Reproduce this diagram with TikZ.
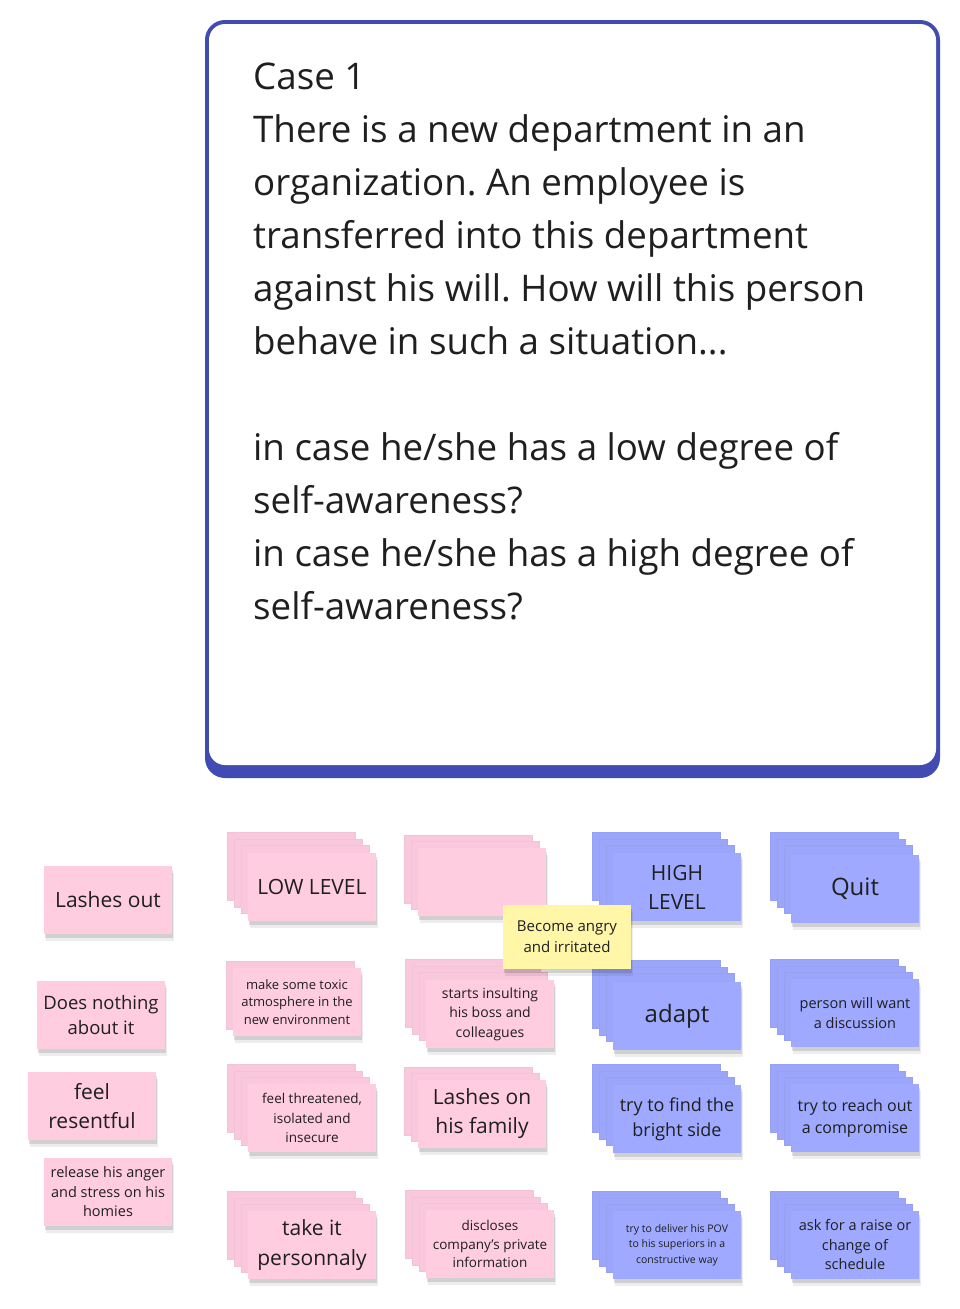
\documentclass[tikz,border=0pt]{standalone}
\usepackage{fontspec}
\setmainfont{Open Sans}
\usetikzlibrary{calc}
\definecolor{frame}{HTML}{414BB2}
\definecolor{ink}{HTML}{1F1F1F}
\definecolor{notepink}{HTML}{FFCCE0}
\definecolor{noteblue}{HTML}{9EA9FF}
\definecolor{noteyellow}{HTML}{FFF6A8}
\newcommand{\notefont}[2]{\fontsize{#1}{#2}\selectfont}
\newcommand{\sheets}[4]{\foreach \k in {#3,...,1}{\filldraw[fill=#4!98!black,draw=#4!95!black,line width=.2pt] (#1-64-7*\k,#2-34-6.5*\k) rectangle ++(128,68);}}
\frenchspacing
\begin{document}
\begin{tikzpicture}[x=1pt,y=-1pt,
  note/.style={minimum width=128pt,minimum height=68pt,inner sep=2pt,align=center,text=ink,
    preaction={fill=black,opacity=.07,transform canvas={xshift=1.5pt,yshift=-7pt}},
    preaction={fill=black,opacity=.12,transform canvas={xshift=1pt,yshift=-3.5pt}}},
  pnote/.style={note,fill=notepink},
  bnote/.style={note,fill=noteblue},
  ynote/.style={note,fill=noteyellow,minimum height=64pt}]
\useasboundingbox (0,0) rectangle (960,1309);
\fill[frame,rounded corners=20pt] (205,20) rectangle (940,778);
\fill[white,rounded corners=16pt] (209,24) rectangle (936,765);
\node[anchor=north west,inner sep=0,align=left,text=ink,font=\notefont{36.7}{53}] (case) at (253,63)
  {Case 1\\There is a new department in an\\organization. An employee is\\transferred into this department\\against his will. How will this person\\behave in such a situation...\\[53pt]in case he/she has a low degree of\\self-awareness?\\in case he/she has a high degree of\\self-awareness?};

\node[pnote,font=\notefont{21}{29}] (lashes) at (108,900) {Lashes out};
\node[pnote,font=\notefont{18.5}{25}] (nothing) at (101,1015) {Does nothing\\about it};
\node[pnote,font=\notefont{21}{29}] (resent) at (92,1106) {feel\\resentful};
\node[pnote,font=\notefont{14.5}{19.5}] (homies) at (108,1192) {release his anger\\and stress on his\\homies};

\sheets{312}{886}{3}{notepink}
\node[pnote,font=\notefont{21}{29}] (low) at (312,887) {LOW LEVEL};
\sheets{297}{1002}{1}{notepink}
\node[pnote,font=\notefont{13}{17.5}] (toxic) at (297,1002) {make some toxic\\atmosphere in the\\new environment};
\sheets{312}{1118}{3}{notepink}
\node[pnote,font=\notefont{13.5}{19.5}] (threat) at (312,1118) {feel threatened,\\isolated and\\insecure};
\sheets{312}{1245}{3}{notepink}
\node[pnote,font=\notefont{21}{30}] (take) at (312,1245) {take it\\personnaly};

\sheets{482}{882}{2}{notepink}
\node[pnote] (blank) at (482,882) {};
\sheets{490}{1013}{3}{notepink}
\node[pnote,font=\notefont{14}{19.5}] (insult) at (490,1014) {starts insulting\\his boss and\\colleagues};
\sheets{482}{1114}{2}{notepink}
\node[pnote,font=\notefont{21}{29}] (family) at (482,1114) {Lashes on\\his family};
\sheets{490}{1244}{3}{notepink}
\node[pnote,font=\notefont{13.5}{18.5}] (disclose) at (490,1244) {discloses\\company's private\\information};

\sheets{677}{886}{3}{noteblue}
\node[bnote,font=\notefont{21}{29}] (high) at (677,887) {HIGH\\LEVEL};
\sheets{677}{1014}{3}{noteblue}
\node[bnote,font=\notefont{24}{30}] (adapt) at (677,1016) {adapt};
\sheets{677}{1118}{3}{noteblue}
\node[bnote,font=\notefont{18}{25}] (bright) at (677,1119) {try to find the\\bright side};
\sheets{677}{1245}{3}{noteblue}
\node[bnote,font=\notefont{10.5}{15.5}] (deliver) at (677,1245) {try to deliver his POV\\to his superiors in a\\constructive way};

\sheets{855}{886}{3}{noteblue}
\node[bnote,font=\notefont{24}{30}] (quit) at (855,889) {Quit};
\sheets{855}{1013}{3}{noteblue}
\node[bnote,font=\notefont{14.5}{20}] (discuss) at (855,1013) {person will want\\a discussion};
\sheets{855}{1118}{3}{noteblue}
\node[bnote,font=\notefont{16}{22}] (reach) at (855,1118) {try to reach out\\a compromise};
\sheets{855}{1245}{3}{noteblue}
\node[bnote,font=\notefont{14.5}{19.5}] (raise) at (855,1245) {ask for a raise or\\change of\\schedule};

\node[ynote,font=\notefont{15}{21}] (angry) at (567,937) {Become angry\\and irritated};
\end{tikzpicture}
\end{document}
